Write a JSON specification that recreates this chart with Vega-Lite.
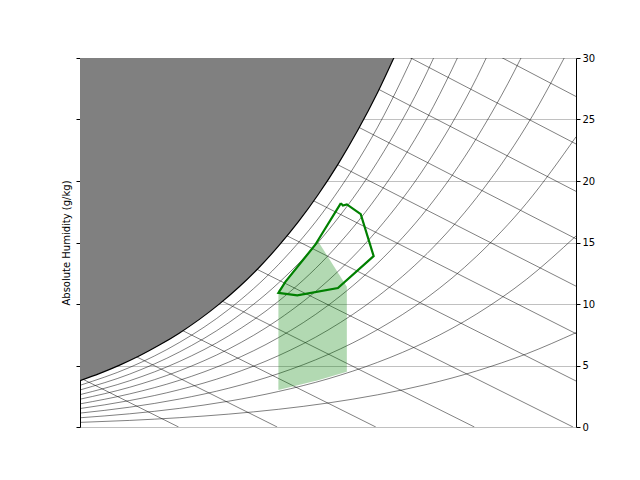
{
  "$schema": "https://vega.github.io/schema/vega-lite/v6.json",
  "autosize": "none",
  "padding": {"left": 80, "top": 58, "right": 64, "bottom": 53},
  "width": 496,
  "height": 369,
  "background": "white",
  "config": {
    "font": "DejaVu Sans",
    "view": {"stroke": null},
    "axis": {
      "labelFont": "DejaVu Sans", "titleFont": "DejaVu Sans",
      "labelFontSize": 10, "titleFontSize": 10, "titleFontWeight": "normal",
      "labelColor": "black", "titleColor": "black", "labelFlush": false,
      "domainColor": "black", "tickColor": "black", "tickSize": 4,
      "gridColor": "#b0b0b0", "gridWidth": 0.8, "gridOpacity": 1, "zindex": 1
    }
  },
  "datasets": {
    "sat": [
      {"T": 0, "w": 3.77}, {"T": 2, "w": 4.36}, {"T": 4, "w": 5.03}, {"T": 6, "w": 5.79},
      {"T": 8, "w": 6.66}, {"T": 10, "w": 7.63}, {"T": 12, "w": 8.73}, {"T": 14, "w": 9.97},
      {"T": 16, "w": 11.36}, {"T": 18, "w": 12.93}, {"T": 20, "w": 14.70}, {"T": 22, "w": 16.67},
      {"T": 24, "w": 18.88}, {"T": 26, "w": 21.35}, {"T": 28, "w": 24.12}, {"T": 30, "w": 27.20},
      {"T": 32, "w": 30.65}
    ],
    "rh": [
      {"phi": 10, "T": 0, "w": 0.375}, {"phi": 10, "T": 5, "w": 0.536}, {"phi": 10, "T": 10, "w": 0.755}, {"phi": 10, "T": 15, "w": 1.048}, {"phi": 10, "T": 20, "w": 1.439}, {"phi": 10, "T": 25, "w": 1.951}, {"phi": 10, "T": 30, "w": 2.617}, {"phi": 10, "T": 35, "w": 3.469}, {"phi": 10, "T": 40, "w": 4.563}, {"phi": 10, "T": 45, "w": 5.943}, {"phi": 10, "T": 50, "w": 7.668},
      {"phi": 20, "T": 0, "w": 0.75}, {"phi": 20, "T": 5, "w": 1.073}, {"phi": 20, "T": 10, "w": 1.511}, {"phi": 20, "T": 15, "w": 2.10}, {"phi": 20, "T": 20, "w": 2.885}, {"phi": 20, "T": 25, "w": 3.915}, {"phi": 20, "T": 30, "w": 5.257}, {"phi": 20, "T": 35, "w": 6.977}, {"phi": 20, "T": 40, "w": 9.195}, {"phi": 20, "T": 45, "w": 12.0}, {"phi": 20, "T": 50, "w": 15.53},
      {"phi": 30, "T": 0, "w": 1.13}, {"phi": 30, "T": 5, "w": 1.61}, {"phi": 30, "T": 10, "w": 2.27}, {"phi": 30, "T": 15, "w": 3.156}, {"phi": 30, "T": 20, "w": 4.338}, {"phi": 30, "T": 25, "w": 5.891}, {"phi": 30, "T": 30, "w": 7.919}, {"phi": 30, "T": 35, "w": 10.525}, {"phi": 30, "T": 40, "w": 13.895}, {"phi": 30, "T": 45, "w": 18.18}, {"phi": 30, "T": 50, "w": 23.59},
      {"phi": 40, "T": 0, "w": 1.50}, {"phi": 40, "T": 5, "w": 2.15}, {"phi": 40, "T": 10, "w": 3.03}, {"phi": 40, "T": 15, "w": 4.215}, {"phi": 40, "T": 20, "w": 5.797}, {"phi": 40, "T": 25, "w": 7.879}, {"phi": 40, "T": 30, "w": 10.603}, {"phi": 40, "T": 35, "w": 14.113}, {"phi": 40, "T": 40, "w": 18.665}, {"phi": 40, "T": 45, "w": 24.47}, {"phi": 40, "T": 50, "w": 31.85},
      {"phi": 50, "T": 0, "w": 1.88}, {"phi": 50, "T": 5, "w": 2.69}, {"phi": 50, "T": 10, "w": 3.79}, {"phi": 50, "T": 15, "w": 5.278}, {"phi": 50, "T": 20, "w": 7.263}, {"phi": 50, "T": 25, "w": 9.881}, {"phi": 50, "T": 30, "w": 13.312}, {"phi": 50, "T": 35, "w": 17.741}, {"phi": 50, "T": 40, "w": 23.51}, {"phi": 50, "T": 45, "w": 30.9}, {"phi": 50, "T": 50, "w": 40.3},
      {"phi": 60, "T": 0, "w": 2.26}, {"phi": 60, "T": 5, "w": 3.23}, {"phi": 60, "T": 10, "w": 4.56}, {"phi": 60, "T": 15, "w": 6.344}, {"phi": 60, "T": 20, "w": 8.736}, {"phi": 60, "T": 25, "w": 11.896}, {"phi": 60, "T": 30, "w": 16.042}, {"phi": 60, "T": 35, "w": 21.413}, {"phi": 60, "T": 40, "w": 28.42}, {"phi": 60, "T": 45, "w": 37.5},
      {"phi": 70, "T": 0, "w": 2.63}, {"phi": 70, "T": 5, "w": 3.76}, {"phi": 70, "T": 10, "w": 5.32}, {"phi": 70, "T": 15, "w": 7.414}, {"phi": 70, "T": 20, "w": 10.216}, {"phi": 70, "T": 25, "w": 13.922}, {"phi": 70, "T": 30, "w": 18.797}, {"phi": 70, "T": 35, "w": 25.125}, {"phi": 70, "T": 40, "w": 33.4},
      {"phi": 80, "T": 0, "w": 3.01}, {"phi": 80, "T": 5, "w": 4.30}, {"phi": 80, "T": 10, "w": 6.09}, {"phi": 80, "T": 15, "w": 8.487}, {"phi": 80, "T": 20, "w": 11.703}, {"phi": 80, "T": 25, "w": 15.962}, {"phi": 80, "T": 30, "w": 21.575}, {"phi": 80, "T": 35, "w": 28.88}, {"phi": 80, "T": 40, "w": 38.5},
      {"phi": 90, "T": 0, "w": 3.39}, {"phi": 90, "T": 5, "w": 4.84}, {"phi": 90, "T": 10, "w": 6.86}, {"phi": 90, "T": 15, "w": 9.565}, {"phi": 90, "T": 20, "w": 13.197}, {"phi": 90, "T": 25, "w": 18.016}, {"phi": 90, "T": 30, "w": 24.378}, {"phi": 90, "T": 35, "w": 32.68}
    ],
    "enth": [
      {"h": 10, "T": 0, "w": 4.0}, {"h": 10, "T": 9.94, "w": 0},
      {"h": 20, "T": 0, "w": 8.0}, {"h": 20, "T": 19.88, "w": 0},
      {"h": 30, "T": 0, "w": 12.0}, {"h": 30, "T": 29.82, "w": 0},
      {"h": 40, "T": 0, "w": 16.0}, {"h": 40, "T": 39.76, "w": 0},
      {"h": 50, "T": 0, "w": 20.0}, {"h": 50, "T": 49.7, "w": 0},
      {"h": 60, "T": 0, "w": 24.0}, {"h": 60, "T": 50, "w": 3.74},
      {"h": 70, "T": 0, "w": 28.0}, {"h": 70, "T": 50, "w": 7.59},
      {"h": 80, "T": 0, "w": 32.0}, {"h": 80, "T": 50, "w": 11.45},
      {"h": 90, "T": 0, "w": 36.0}, {"h": 90, "T": 50, "w": 15.3},
      {"h": 100, "T": 0, "w": 40.0}, {"h": 100, "T": 50, "w": 19.16},
      {"h": 110, "T": 0, "w": 44.0}, {"h": 110, "T": 50, "w": 23.01},
      {"h": 120, "T": 0, "w": 48.0}, {"h": 120, "T": 50, "w": 26.87}
    ],
    "zone": [
      {"T": 20.0, "hi": 11.1, "lo": 3.0},
      {"T": 24.0, "hi": 15.1, "lo": 3.8},
      {"T": 26.9, "hi": 11.4, "lo": 4.5}
    ],
    "outline": [
      {"o": 1, "T": 26.3, "w": 18.2}, {"o": 2, "T": 26.5, "w": 18.0}, {"o": 3, "T": 26.9, "w": 18.1},
      {"o": 4, "T": 28.3, "w": 17.3}, {"o": 5, "T": 29.6, "w": 13.9}, {"o": 6, "T": 26.0, "w": 11.3},
      {"o": 7, "T": 21.9, "w": 10.7}, {"o": 8, "T": 20.0, "w": 10.9}, {"o": 9, "T": 20.7, "w": 11.8},
      {"o": 10, "T": 23.7, "w": 14.8}, {"o": 11, "T": 26.3, "w": 18.2}
    ]
  },
  "layer": [
    {
      "data": {"name": "rh"},
      "mark": {"type": "line", "color": "black", "strokeWidth": 0.5, "interpolate": "monotone", "clip": true},
      "encoding": {
        "x": {"field": "T", "type": "quantitative", "scale": {"domain": [0, 50]},
          "axis": {"title": "Dry Bulb Temperature (℃)", "values": [0, 10, 20, 30, 40, 50], "grid": true}},
        "y": {"field": "w", "type": "quantitative", "scale": {"domain": [0, 30]},
          "axis": {"title": "Absolute Humidity (g/kg)", "labels": false, "values": [0, 5, 10, 15, 20, 25, 30], "grid": true}},
        "detail": {"field": "phi"}
      }
    },
    {
      "data": {"name": "enth"},
      "mark": {"type": "line", "color": "black", "strokeWidth": 0.5, "clip": true},
      "encoding": {
        "x": {"field": "T", "type": "quantitative", "axis": null},
        "y": {"field": "w", "type": "quantitative",
          "axis": {"orient": "right", "title": null, "grid": false, "values": [0, 5, 10, 15, 20, 25, 30]}},
        "detail": {"field": "h"}
      }
    },
    {
      "data": {"name": "sat"},
      "mark": {"type": "area", "color": "#808080", "opacity": 1, "interpolate": "monotone", "clip": true},
      "encoding": {
        "x": {"field": "T", "type": "quantitative", "axis": null},
        "y": {"field": "w", "type": "quantitative", "axis": null},
        "y2": {"datum": 30}
      }
    },
    {
      "data": {"name": "sat"},
      "mark": {"type": "line", "color": "black", "strokeWidth": 1.2, "interpolate": "monotone", "clip": true},
      "encoding": {
        "x": {"field": "T", "type": "quantitative", "axis": null},
        "y": {"field": "w", "type": "quantitative", "axis": null}
      }
    },
    {
      "data": {"name": "zone"},
      "mark": {"type": "area", "color": "#008000", "opacity": 0.3},
      "encoding": {
        "x": {"field": "T", "type": "quantitative", "axis": null},
        "y": {"field": "hi", "type": "quantitative", "axis": null},
        "y2": {"field": "lo"}
      }
    },
    {
      "data": {"name": "outline"},
      "mark": {"type": "line", "color": "green", "strokeWidth": 2.2},
      "encoding": {
        "x": {"field": "T", "type": "quantitative", "axis": null},
        "y": {"field": "w", "type": "quantitative", "axis": null},
        "order": {"field": "o"}
      }
    }
  ],
  "resolve": {"axis": {"y": "independent"}}
}
